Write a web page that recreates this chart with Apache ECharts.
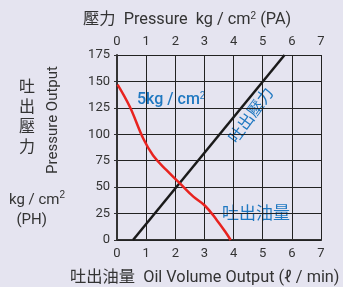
<!DOCTYPE html>
<html>
<head>
<meta charset="utf-8">
<script src="https://cdn.jsdelivr.net/npm/echarts@6/dist/echarts.min.js"></script>
<style>
  html, body { margin: 0; padding: 0; background: #e5e4f0; }
  #chart { width: 343px; height: 287px; }
</style>
</head>
<body>
<div id="chart"></div>
<script>
// axis ticks
const xTicks = [0, 1, 2, 3, 4, 5, 6, 7];
const yTicks = [0, 25, 50, 75, 100, 125, 150, 175];

// 吐出壓力 line (volume, pressure)
const pressureLine = [[0.55, 0], [5.75, 175]];

// 吐出油量 curve (volume, pressure)
const oilCurve = [
    [0.02, 147], [0.44, 126], [0.9, 96], [1.24, 80], [1.7, 66],
    [2.16, 53.5], [2.62, 41], [3.02, 32.4], [3.42, 19], [3.71, 8], [3.9, 0]
];

const chart = echarts.init(document.getElementById('chart'));
const blue = '#1f78c1';
const font = 'Roboto, "Noto Sans CJK TC", sans-serif';
const sup = { fontSize: 10, verticalAlign: 'top', padding: [0, 0, 8, 0], fill: '#333' };

const option = {
    backgroundColor: '#e5e4f0',
    animation: false,
    textStyle: { fontFamily: font },
    grid: { left: 117, right: 22, top: 55, bottom: 47 },
    xAxis: [
        {
            type: 'value', min: 0, max: 7, interval: 1, position: 'bottom',
            axisLine: { show: true, onZero: false, lineStyle: { color: '#333', width: 2 } },
            axisTick: { show: false },
            axisLabel: { color: '#333', fontSize: 13, margin: 7, fontFamily: font },
            splitLine: { show: true, lineStyle: { color: '#222', width: 1 } }
        },
        {
            type: 'value', min: 0, max: 7, interval: 1, position: 'top',
            axisLine: { show: true, lineStyle: { color: '#222', width: 1 } },
            axisTick: { show: false },
            axisLabel: { color: '#333', fontSize: 13, margin: 7, fontFamily: font },
            splitLine: { show: false }
        }
    ],
    yAxis: {
        type: 'value', min: 0, max: 175, interval: 25,
        axisLine: { show: true, lineStyle: { color: '#333', width: 2 } },
        axisTick: { show: true, length: 3, lineStyle: { color: '#333' } },
        axisLabel: { color: '#333', fontSize: 13, margin: 7, fontFamily: font },
        splitLine: { show: true, lineStyle: { color: '#222', width: 1 } }
    },
    series: [
        {
            type: 'line', data: pressureLine, symbol: 'none',
            lineStyle: { color: '#1a1a1a', width: 2.5 }, z: 3
        },
        {
            type: 'line', data: oilCurve, symbol: 'none', smooth: 0.4,
            lineStyle: { color: '#e8231f', width: 2.5 }, z: 4
        }
    ],
    graphic: [
        {
            type: 'text', left: 83, top: 11,
            style: { text: '壓力  Pressure  kg / cm{s|2} (PA)', font: '16.3px ' + font, fill: '#333', rich: { s: sup } }
        },
        {
            type: 'text', left: 70, top: 270,
            style: { text: '吐出油量  Oil Volume Output (ℓ / min)', font: '16.3px ' + font, fill: '#333' }
        },
        {
            type: 'text', left: 19, top: 78,
            style: { text: '吐\n出\n壓\n力', font: '16px ' + font, fill: '#333', lineHeight: 20 }
        },
        {
            type: 'text', x: 53, y: 120, rotation: Math.PI / 2,
            style: { text: 'Pressure Output', font: '15px ' + font, fill: '#333', align: 'center', verticalAlign: 'middle' }
        },
        {
            type: 'text', left: 9, top: 190,
            style: {
                text: 'kg / cm{s|2}\n  (PH)', font: '15px ' + font, fill: '#333', lineHeight: 20,
                rich: { s: sup }
            }
        },
        {
            type: 'text', left: 137, top: 91,
            style: {
                text: '5kg / cm{s|2}', font: '500 16px ' + font, fill: blue,
                rich: { s: Object.assign({}, sup, { fill: blue }) }
            }
        },
        {
            type: 'text', x: 252, y: 116, rotation: Math.PI * 0.3,
            style: { text: '吐出壓力', font: '16px ' + font, fill: blue, align: 'center', verticalAlign: 'middle' }
        },
        {
            type: 'text', left: 222, top: 206,
            style: { text: '吐出油量', font: '17px ' + font, fill: blue }
        }
    ]
};
chart.setOption(option);
</script>
</body>
</html>
